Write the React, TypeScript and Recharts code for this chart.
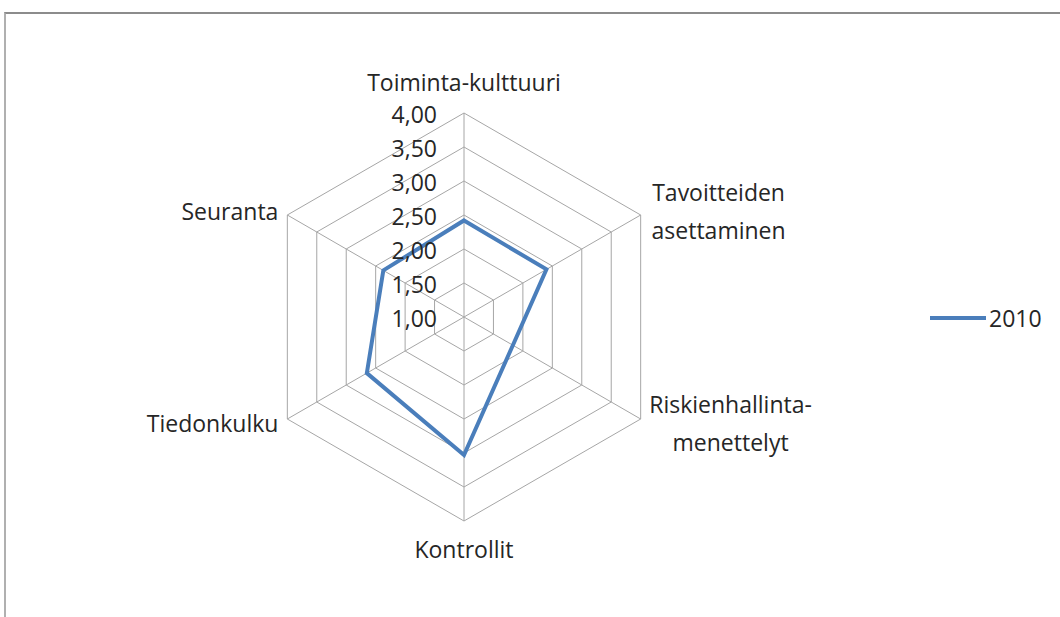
import React from "react";
import {
  Legend,
  PolarAngleAxis,
  PolarGrid,
  PolarRadiusAxis,
  Radar,
  RadarChart,
} from "recharts";

const areas = [
  "Toiminta-kulttuuri",
  "Tavoitteiden asettaminen",
  "Riskienhallinta-menettelyt",
  "Kontrollit",
  "Tiedonkulku",
  "Seuranta",
];
const values2010 = [2.42, 2.4, 1.83, 3.03, 2.65, 2.37];
const radiusTicks = [1, 1.5, 2, 2.5, 3, 3.5, 4];

const labelLines: string[][] = [
  ["Toiminta-kulttuuri"],
  ["Tavoitteiden", "asettaminen"],
  ["Riskienhallinta-", "menettelyt"],
  ["Kontrollit"],
  ["Tiedonkulku"],
  ["Seuranta"],
];

const data = areas.map((area, i) => ({ area, v2010: values2010[i] }));

const FONT = "'Open Sans', 'Noto Sans', sans-serif";
const TEXT = "#262626";
const FS = 23;

function AngleTick(props: any) {
  const { x, y, index } = props;
  const lines = labelLines[index] ?? [props.payload.value];
  let tx = x;
  let ty = y;
  let anchor: "start" | "middle" | "end" = "middle";
  if (index === 0) ty = y - 23;
  else if (index === 3) ty = y + 20;
  else if (index === 1) tx = x + 71;
  else if (index === 2) tx = x + 83;
  else {
    tx = x - 2;
    anchor = "end";
  }
  const lh = 38;
  const start = ty - ((lines.length - 1) * lh) / 2;
  return (
    <text
      x={tx}
      y={start}
      textAnchor={anchor}
      fill={TEXT}
      fontSize={FS}
      fontFamily={FONT}
      dominantBaseline="central"
    >
      {lines.map((l, i) => (
        <tspan key={i} x={tx} y={start + i * lh}>
          {l}
        </tspan>
      ))}
    </text>
  );
}

function RadiusTick(props: any) {
  const { x, y, payload } = props;
  return (
    <text
      x={x - 27}
      y={y + 1}
      textAnchor="end"
      dominantBaseline="central"
      fill={TEXT}
      fontSize={FS}
      fontFamily={FONT}
    >
      {Number(payload.value).toFixed(2).replace(".", ",")}
    </text>
  );
}

function LegendContent() {
  return (
    <svg width={130} height={30}>
      <line x1={2} y1={15} x2={58} y2={15} stroke="#4a7ebb" strokeWidth={4} />
      <text
        x={61}
        y={15}
        dominantBaseline="central"
        fill={TEXT}
        fontSize={FS}
        fontFamily={FONT}
      >
        2010
      </text>
    </svg>
  );
}

export default function App() {
  return (
    <div
      style={{
        position: "absolute",
        left: 0,
        top: 0,
        width: 1060,
        height: 617,
        background: "#fff",
        overflow: "hidden",
      }}
    >
      <div
        style={{
          position: "absolute",
          left: 4,
          top: 12,
          width: 1100,
          height: 700,
          borderTop: "2px solid #8c8c8c",
          borderLeft: "2px solid #b0b0b0",
        }}
      />
      <div style={{ position: "absolute", left: 0, top: 0 }}>
        <RadarChart
          width={1060}
          height={617}
          data={data}
          cx={464}
          cy={317}
          outerRadius={204}
          margin={{ top: 0, right: 0, bottom: 0, left: 0 }}
        >
          <PolarGrid gridType="polygon" stroke="#a6a6a6" />
          <PolarAngleAxis
            dataKey="area"
            tick={AngleTick}
            tickLine={false}
            axisLine={false}
            tickSize={8}
          />
          <PolarRadiusAxis
            angle={90}
            domain={[1, 4]}
            ticks={radiusTicks}
            tickCount={7}
            type="number"
            axisLine={false}
            tickLine={false}
            tick={RadiusTick}
          />
          <Radar
            name="2010"
            dataKey="v2010"
            stroke="#4a7ebb"
            strokeWidth={4}
            fill="none"
            fillOpacity={0}
            dot={false}
            isAnimationActive={false}
          />
          <Legend
            content={LegendContent}
            wrapperStyle={{ position: "absolute", left: 928, top: 303, width: 130 }}
          />
        </RadarChart>
      </div>
    </div>
  );
}
